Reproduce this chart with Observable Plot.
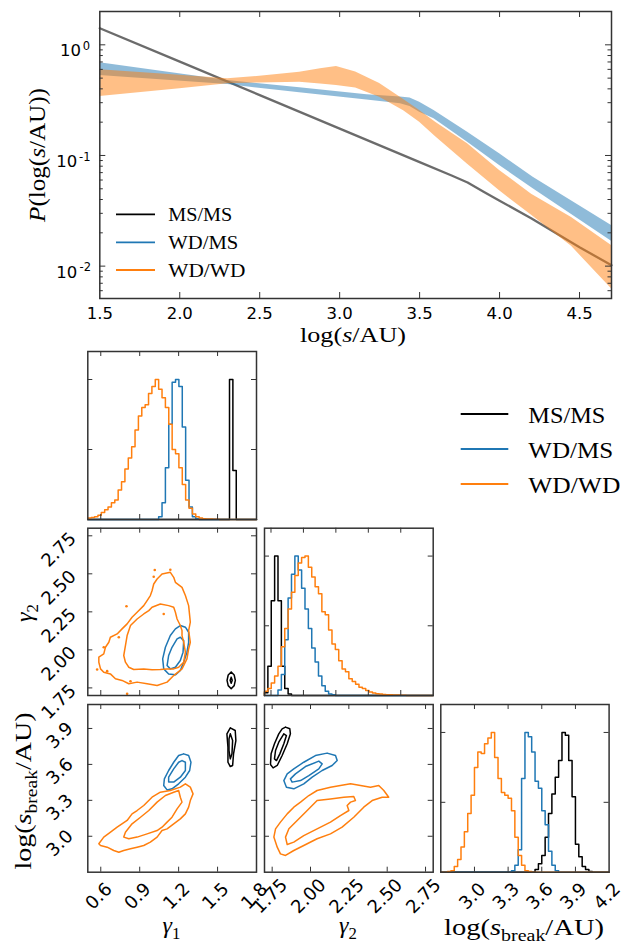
<!DOCTYPE html>
<html><head><meta charset="utf-8">
<script src="https://cdn.jsdelivr.net/npm/d3@7"></script>
<script src="https://cdn.jsdelivr.net/npm/@observablehq/plot@0.6"></script>
<style>
html,body{margin:0;padding:0;background:#fff;}
#chart{position:relative;width:624px;height:947px;overflow:hidden;background:#fff;}
#chart svg{position:absolute;left:0;top:0;}
</style></head><body><div id="chart"></div>
<script>
// ---------------- top panel data ----------------
const msmsX = [1.5, 2.0, 2.5, 3.0, 3.5, 3.7, 3.8, 3.9, 4.0, 4.2, 4.5, 4.7];
const msmsP = [1.41, 0.705, 0.351, 0.175, 0.087, 0.066, 0.057, 0.047, 0.039, 0.027, 0.0148, 0.0102];
const wdmsX  = [1.5, 2.3, 2.75, 3.17, 3.38, 3.44, 3.50, 3.59, 3.80, 4.00, 4.21, 4.70];
const wdmsHi = [0.687, 0.476, 0.409, 0.353, 0.337, 0.330, 0.303, 0.255, 0.162, 0.1035, 0.0637, 0.0233];
const wdmsLo = [0.528, 0.437, 0.368, 0.318, 0.293, 0.277, 0.246, 0.215, 0.132, 0.0813, 0.050, 0.0168];
const wdwdX  = [1.5, 2.0, 2.3, 2.5, 2.75, 2.88, 2.98, 3.1, 3.25, 3.4, 3.5, 3.6, 3.8, 4.0, 4.2, 4.45, 4.7];
const wdwdHi = [0.594, 0.531, 0.493, 0.519, 0.566, 0.607, 0.637, 0.569, 0.447, 0.321, 0.255, 0.1995, 0.1276, 0.0733, 0.0447, 0.0275, 0.01538];
const wdwdLo = [0.341, 0.400, 0.445, 0.452, 0.459, 0.4416, 0.4285, 0.407, 0.336, 0.253, 0.1995, 0.148, 0.0832, 0.0479, 0.0288, 0.0151, 0.00625];
const topXTicks = [2.0, 2.5, 3.0, 3.5, 4.0, 4.5];
const topXLabels = [1.5, 2.0, 2.5, 3.0, 3.5, 4.0, 4.5];
const topYMajor = [1, 0.1, 0.01];
const topYExp = ["0", "-1", "-2"];
const topYMinor = [0.006,0.007,0.008,0.009,0.02,0.03,0.04,0.05,0.06,0.07,0.08,0.09,0.2,0.3,0.4,0.5,0.6,0.7,0.8,0.9];
const seriesNames = ["MS/MS", "WD/MS", "WD/WD"];

// ---------------- corner: histograms (normalised, 50 bins) ----------------
const g1Range = [0.5, 1.8], g2HistRange = [1.70, 3.0], sbHistRange = [2.70, 4.20];
const nBins = 50;
const g1BlackStart = 42, g1Black = [1.0, 0.35];
const g1BlueStart = 21, g1Blue = [0.02,0.12,0.37,0.68,0.98,1.0,0.95,0.66,0.28,0.09,0.02,0.005];
const g1OrangeStart = 0, g1Orange = [0.01,0.015,0.02,0.03,0.05,0.07,0.09,0.12,0.14,0.21,0.27,0.36,0.44,0.52,0.64,0.74,0.80,0.82,0.90,0.95,1.0,0.93,0.87,0.80,0.68,0.50,0.47,0.37,0.25,0.14,0.08,0.04,0.02,0.01,0.006,0.004,0.003,0.002,0.001];
const g2BlackStart = 0, g2Black = [0.02,0.21,0.68,1.0,0.68,0.21,0.05,0.01];
const g2BlueStart = 4, g2Blue = [0.04,0.15,0.40,0.70,0.87,1.0,0.90,0.77,0.62,0.48,0.34,0.24,0.14,0.07,0.03,0.01,0.005];
const g2OrangeStart = 0, g2Orange = [0.03,0.05,0.09,0.14,0.21,0.35,0.48,0.62,0.74,0.86,0.95,0.99,1.0,0.92,0.85,0.78,0.73,0.60,0.58,0.47,0.37,0.33,0.25,0.19,0.17,0.12,0.10,0.08,0.06,0.05,0.035,0.025,0.018,0.012,0.01,0.008,0.006,0.005,0.004,0.003,0.002,0.001];
const sbBlackStart = 28, sbBlack = [0.02,0.06,0.12,0.25,0.42,0.56,0.68,0.80,1.0,0.98,0.80,0.54,0.20,0.11,0.04,0.02,0.005];
const sbBlueStart = 21, sbBlue = [0.01,0.05,0.16,0.67,1.0,0.97,0.86,0.65,0.60,0.44,0.34,0.15,0.05,0.01];
const sbOrangeStart = 2, sbOrange = [0.005,0.01,0.04,0.09,0.18,0.29,0.42,0.55,0.75,0.86,0.85,0.92,0.96,1.0,0.82,0.67,0.57,0.55,0.53,0.44,0.25,0.12,0.05,0.01,0.005];

// ---------------- corner: contours ([x, y]) ----------------
// gamma1 vs gamma2
const r2c1BlackOut = [[1.605,1.855],[1.628,1.835],[1.637,1.80],[1.628,1.765],[1.605,1.745],[1.582,1.765],[1.573,1.80],[1.582,1.835],[1.605,1.855]];
const r2c1BlackIn = [[1.605,1.82],[1.613,1.80],[1.605,1.78],[1.597,1.80],[1.605,1.82]];
const r2c1BlueOut = [[1.213,2.160],[1.252,2.149],[1.277,2.116],[1.277,2.050],[1.264,1.985],[1.239,1.919],[1.213,1.864],[1.175,1.836],[1.123,1.842],[1.085,1.875],[1.077,1.941],[1.098,2.017],[1.136,2.094],[1.175,2.138],[1.213,2.160]];
const r2c1BlueIn = [[1.213,2.083],[1.239,2.061],[1.234,1.985],[1.213,1.930],[1.175,1.886],[1.136,1.875],[1.111,1.897],[1.123,1.963],[1.149,2.017],[1.188,2.072],[1.213,2.083]];
const r2c1OrangeOut = [[1.072,2.499],[1.136,2.510],[1.162,2.477],[1.175,2.444],[1.226,2.411],[1.252,2.357],[1.277,2.291],[1.290,2.182],[1.277,2.127],[1.290,2.050],[1.277,2.006],[1.264,1.941],[1.226,1.875],[1.162,1.831],[1.111,1.788],[1.034,1.766],[0.957,1.777],[0.880,1.788],[0.816,1.777],[0.764,1.799],[0.713,1.810],[0.674,1.842],[0.623,1.853],[0.598,1.875],[0.585,1.919],[0.585,1.952],[0.623,1.974],[0.636,2.017],[0.662,2.050],[0.674,2.083],[0.726,2.105],[0.764,2.138],[0.803,2.171],[0.841,2.214],[0.880,2.247],[0.931,2.291],[0.957,2.324],[0.982,2.357],[0.995,2.389],[1.008,2.433],[1.034,2.466],[1.072,2.499]];
const r2c1OrangeIn = [[0.995,2.280],[1.059,2.302],[1.123,2.291],[1.162,2.280],[1.175,2.247],[1.188,2.203],[1.213,2.160],[1.226,2.127],[1.226,2.094],[1.239,2.050],[1.252,1.985],[1.239,1.919],[1.200,1.886],[1.162,1.875],[1.111,1.875],[1.059,1.871],[0.995,1.869],[0.931,1.875],[0.854,1.871],[0.816,1.886],[0.790,1.919],[0.777,1.963],[0.790,2.028],[0.803,2.094],[0.829,2.160],[0.880,2.203],[0.931,2.236],[0.970,2.258],[0.995,2.280]];
const r2c1OrangeSpecks = [[1.016,2.525],[1.136,2.527],[1.008,2.481],[0.798,2.287],[1.085,2.236],[0.739,2.083],[0.623,2.017],[0.572,1.871],[0.649,1.860],[0.829,1.794],[0.803,1.711]];
// gamma1 vs log s_break
const r3c1BlackOut = [[1.598,3.905],[1.636,3.883],[1.641,3.799],[1.623,3.688],[1.616,3.591],[1.598,3.582],[1.580,3.618],[1.580,3.744],[1.572,3.855],[1.598,3.905]];
const r3c1BlackIn = [[1.598,3.855],[1.616,3.799],[1.611,3.688],[1.598,3.646],[1.588,3.716],[1.588,3.813],[1.598,3.855]];
const r3c1BlueOut = [[1.239,3.688],[1.277,3.674],[1.295,3.618],[1.285,3.549],[1.252,3.493],[1.200,3.438],[1.149,3.396],[1.111,3.387],[1.085,3.424],[1.090,3.479],[1.123,3.549],[1.162,3.618],[1.200,3.674],[1.239,3.688]];
const r3c1BlueIn = [[1.226,3.632],[1.252,3.618],[1.252,3.549],[1.213,3.493],[1.162,3.452],[1.123,3.452],[1.123,3.493],[1.162,3.563],[1.200,3.618],[1.226,3.632]];
const r3c1OrangeOut = [[0.585,2.937],[0.623,2.993],[0.675,3.034],[0.726,3.076],[0.803,3.132],[0.841,3.187],[0.880,3.215],[0.931,3.257],[0.995,3.326],[1.059,3.368],[1.136,3.382],[1.213,3.410],[1.252,3.438],[1.290,3.410],[1.311,3.354],[1.290,3.298],[1.277,3.243],[1.252,3.187],[1.213,3.145],[1.162,3.104],[1.111,3.062],[1.072,3.048],[1.034,2.993],[0.982,2.951],[0.931,2.923],[0.880,2.909],[0.829,2.895],[0.777,2.881],[0.739,2.867],[0.700,2.881],[0.649,2.909],[0.598,2.923],[0.585,2.937]];
const r3c1OrangeIn = [[0.777,2.993],[0.790,3.034],[0.841,3.104],[0.906,3.159],[0.970,3.215],[1.034,3.285],[1.098,3.340],[1.162,3.368],[1.200,3.382],[1.213,3.326],[1.226,3.285],[1.188,3.229],[1.149,3.159],[1.111,3.118],[1.072,3.076],[1.034,3.048],[0.957,3.020],[0.880,2.993],[0.816,2.979],[0.777,2.993]];
// gamma2 vs log s_break
const r3c2BlackOut = [[1.837,3.911],[1.865,3.897],[1.869,3.855],[1.848,3.772],[1.815,3.674],[1.783,3.591],[1.756,3.571],[1.739,3.599],[1.743,3.688],[1.765,3.772],[1.793,3.855],[1.815,3.897],[1.837,3.911]];
const r3c2BlackIn = [[1.826,3.855],[1.843,3.841],[1.826,3.772],[1.800,3.688],[1.778,3.632],[1.765,3.646],[1.772,3.716],[1.793,3.785],[1.826,3.855]];
const r3c2BlueOut = [[2.108,3.694],[2.163,3.674],[2.174,3.632],[2.141,3.591],[2.076,3.549],[2.011,3.493],[1.956,3.438],[1.891,3.396],[1.843,3.410],[1.826,3.465],[1.848,3.521],[1.891,3.563],[1.956,3.618],[2.032,3.674],[2.108,3.694]];
const r3c2BlueIn = [[2.054,3.627],[2.076,3.604],[2.054,3.563],[1.989,3.507],[1.935,3.465],[1.880,3.452],[1.869,3.479],[1.902,3.521],[1.967,3.582],[2.054,3.627]];
const r3c2OrangeOut = [[2.043,3.382],[2.130,3.410],[2.195,3.424],[2.261,3.438],[2.326,3.424],[2.391,3.410],[2.445,3.424],[2.478,3.382],[2.510,3.326],[2.467,3.326],[2.402,3.298],[2.347,3.243],[2.282,3.159],[2.206,3.076],[2.130,3.020],[2.043,2.979],[1.956,2.923],[1.891,2.881],[1.837,2.840],[1.804,2.853],[1.783,2.909],[1.761,2.993],[1.772,3.062],[1.804,3.118],[1.848,3.187],[1.891,3.243],[1.935,3.285],[1.989,3.340],[2.043,3.382]];
const r3c2OrangeIn = [[2.043,3.298],[2.130,3.312],[2.217,3.326],[2.282,3.332],[2.293,3.298],[2.261,3.285],[2.239,3.257],[2.250,3.215],[2.195,3.173],[2.130,3.118],[2.043,3.062],[1.956,3.006],[1.891,2.951],[1.848,2.931],[1.837,2.993],[1.859,3.062],[1.913,3.132],[1.967,3.201],[2.043,3.298]];

// tick values
const g1Ticks = [0.6, 0.9, 1.2, 1.5];
const g1Labels = [0.6, 0.9, 1.2, 1.5, 1.8];
const g2Ticks = [1.75, 2.0, 2.25, 2.5, 2.75];
const sbTicks = [3.0, 3.3, 3.6, 3.9];
const sbLabels = [3.0, 3.3, 3.6, 3.9, 4.2];
const histYTicks = [0.5, 1.0];

// ---------------- drawing ----------------
const W = 624, H = 947;
const SANS = "DejaVu Sans", SERIF = "Liberation Serif";
const FRAME = "#333333";
const COL = {black: "#000000", blue: "#1f77b4", orange: "#ff7f0e"};
const chart = document.getElementById("chart");
const svgStyle = {background: "transparent", overflow: "visible"};

function plotAt(box, xd, yd, marks, ytype) {
  return Plot.plot({
    width: W, height: H,
    marginLeft: box[0], marginRight: W - box[1], marginTop: box[2], marginBottom: H - box[3],
    x: {domain: xd, axis: null},
    y: {domain: yd, axis: null, type: ytype || "linear"},
    style: svgStyle,
    marks
  });
}
function inTicks(box, xs, ys, len) {
  const w = box[1] - box[0], h = box[3] - box[2];
  const o = {stroke: FRAME, strokeWidth: 1};
  return [
    Plot.tickX(xs, {x: d => d, insetTop: h - len, ...o}),
    Plot.tickX(xs, {x: d => d, insetBottom: h - len, ...o}),
    Plot.tickY(ys, {y: d => d, insetRight: w - len, ...o}),
    Plot.tickY(ys, {y: d => d, insetLeft: w - len, ...o})
  ];
}
function histLine(range, start, vals, color) {
  const w = (range[1] - range[0]) / nBins;
  const full = new Array(nBins).fill(0);
  vals.forEach((v, i) => { full[start + i] = v; });
  const pts = [[range[0], 0]];
  full.forEach((v, i) => pts.push([range[0] + i * w, v]));
  pts.push([range[1], full[nBins - 1]]);
  pts.push([range[1], 0]);
  return Plot.line(pts, {x: d => d[0], y: d => d[1], curve: "step-after", stroke: color, strokeWidth: 1.5});
}
function contour(pts, color) {
  return Plot.line(pts, {x: d => d[0], y: d => d[1], stroke: color, strokeWidth: 1.5, strokeLinejoin: "round"});
}
function botLabels(vals, dec) {
  return Plot.text(vals, {x: d => d, frameAnchor: "bottom", text: d => d.toFixed(dec), rotate: -45,
    dx: -2, dy: 24, fontSize: 18, fontFamily: SANS, textAnchor: "middle", lineAnchor: "middle"});
}
function leftLabels(vals, dec, dx, dy) {
  return Plot.text(vals, {y: d => d, frameAnchor: "left", text: d => d.toFixed(dec), rotate: -45,
    dx, dy, fontSize: 18, fontFamily: SANS, textAnchor: "middle", lineAnchor: "middle"});
}
const frame = () => Plot.frame({stroke: FRAME, strokeWidth: 1.5});

// ---- top panel ----
const TP = [99.3, 611, 11, 298];
const msms = msmsX.map((x, i) => ({x, p: msmsP[i]}));
const wdms = wdmsX.map((x, i) => ({x, lo: wdmsLo[i], hi: wdmsHi[i]}));
const wdwd = wdwdX.map((x, i) => ({x, lo: wdwdLo[i], hi: wdwdHi[i]}));
const tpW = TP[1] - TP[0], tpH = TP[3] - TP[2];
const tk = {stroke: FRAME, strokeWidth: 1};
const baseDx = [-18.8, -22.6, -22.6], expDx = [-9.8, -9.3, -8.8];
const yLabelMarks = [];
topYMajor.forEach((t, i) => {
  yLabelMarks.push(Plot.text([t], {y: d => d, frameAnchor: "left", text: () => "10", textAnchor: "end",
    dx: baseDx[i], dy: 6.4, fontSize: 16.5, fontFamily: SANS, lineAnchor: "middle"}));
  yLabelMarks.push(Plot.text([t], {y: d => d, frameAnchor: "left", text: () => topYExp[i], textAnchor: "end",
    dx: expDx[i], dy: 1.5, fontSize: 11.5, fontFamily: SANS, lineAnchor: "middle"}));
});
chart.appendChild(plotAt(TP, [1.5, 4.7], [0.0051, 2.0], [
  Plot.line(msms, {x: "x", y: "p", stroke: "#000", strokeOpacity: 0.58, strokeWidth: 2.3}),
  Plot.areaY(wdms, {x: "x", y1: "lo", y2: "hi", fill: COL.blue, fillOpacity: 0.5}),
  Plot.areaY(wdwd, {x: "x", y1: "lo", y2: "hi", fill: COL.orange, fillOpacity: 0.5}),
  Plot.tickX(topXTicks, {x: d => d, insetTop: tpH - 6, ...tk}),
  Plot.tickX(topXTicks, {x: d => d, insetBottom: tpH - 6, ...tk}),
  Plot.tickY(topYMajor, {y: d => d, insetRight: tpW - 6, ...tk}),
  Plot.tickY(topYMajor, {y: d => d, insetLeft: tpW - 6, ...tk}),
  Plot.tickY(topYMinor, {y: d => d, insetRight: tpW - 3.5, ...tk}),
  Plot.tickY(topYMinor, {y: d => d, insetLeft: tpW - 3.5, ...tk}),
  Plot.text(topXLabels, {x: d => d, frameAnchor: "bottom", dy: 15, text: d => d.toFixed(1),
    fontFamily: SANS, fontSize: 16.5, lineAnchor: "middle"}),
  ...yLabelMarks,
  frame()
], "log"));

// ---- corner panels ----
const colX = [[87.3, 256], [264, 432.7], [440.3, 608.6]];
const rowY = [[351, 519], [527.7, 695], [704, 871.7]];
const box = (r, c) => [colX[c][0], colX[c][1], rowY[r][0], rowY[r][1]];
const g2Range = [1.70, 2.80], sbRange = [2.70, 4.10];

// r1c1 gamma1 histogram
chart.appendChild(plotAt(box(0, 0), g1Range, [0, 1.2], [
  histLine(g1Range, g1BlackStart, g1Black, COL.black),
  histLine(g1Range, g1BlueStart, g1Blue, COL.blue),
  histLine(g1Range, g1OrangeStart, g1Orange, COL.orange),
  ...inTicks(box(0, 0), g1Ticks, histYTicks, 5),
  frame()
]));
// r2c1 gamma1 vs gamma2
chart.appendChild(plotAt(box(1, 0), g1Range, g2Range, [
  contour(r2c1BlackOut, COL.black), contour(r2c1BlackIn, COL.black),
  contour(r2c1BlueOut, COL.blue), contour(r2c1BlueIn, COL.blue),
  contour(r2c1OrangeOut, COL.orange), contour(r2c1OrangeIn, COL.orange),
  Plot.dot(r2c1OrangeSpecks, {x: d => d[0], y: d => d[1], r: 1.3, fill: COL.orange}),
  ...inTicks(box(1, 0), g1Ticks, g2Ticks, 5),
  leftLabels(g2Ticks, 2, -29, 14),
  frame()
]));
// r2c2 gamma2 histogram
chart.appendChild(plotAt(box(1, 1), g2HistRange, [0, 1.2], [
  histLine(g2HistRange, g2BlackStart, g2Black, COL.black),
  histLine(g2HistRange, g2BlueStart, g2Blue, COL.blue),
  histLine(g2HistRange, g2OrangeStart, g2Orange, COL.orange),
  ...inTicks(box(1, 1), g2Ticks, histYTicks, 5),
  frame()
]));
// r3c1 gamma1 vs s_break
chart.appendChild(plotAt(box(2, 0), g1Range, sbRange, [
  contour(r3c1BlackOut, COL.black), contour(r3c1BlackIn, COL.black),
  contour(r3c1BlueOut, COL.blue), contour(r3c1BlueIn, COL.blue),
  contour(r3c1OrangeOut, COL.orange), contour(r3c1OrangeIn, COL.orange),
  ...inTicks(box(2, 0), g1Ticks, sbTicks, 5),
  leftLabels(sbTicks, 1, -28, 7),
  botLabels(g1Labels, 1),
  frame()
]));
// r3c2 gamma2 vs s_break
chart.appendChild(plotAt(box(2, 1), g2Range, sbRange, [
  contour(r3c2BlackOut, COL.black), contour(r3c2BlackIn, COL.black),
  contour(r3c2BlueOut, COL.blue), contour(r3c2BlueIn, COL.blue),
  contour(r3c2OrangeOut, COL.orange), contour(r3c2OrangeIn, COL.orange),
  ...inTicks(box(2, 1), g2Ticks, sbTicks, 5),
  botLabels(g2Ticks, 2),
  frame()
]));
// r3c3 s_break histogram
chart.appendChild(plotAt(box(2, 2), sbHistRange, [0, 1.2], [
  histLine(sbHistRange, sbBlackStart, sbBlack, COL.black),
  histLine(sbHistRange, sbBlueStart, sbBlue, COL.blue),
  histLine(sbHistRange, sbOrangeStart, sbOrange, COL.orange),
  ...inTicks(box(2, 2), sbTicks, histYTicks, 5),
  botLabels(sbLabels, 1),
  frame()
]));

// ---- overlay: axis titles and legends ----
const ov = d3.create("svg").attr("width", W).attr("height", H).attr("viewBox", `0 0 ${W} ${H}`);
function rich(x, y, rot, size, parts, len, anchor) {
  const t = ov.append("text")
    .attr("transform", `translate(${x},${y}) rotate(${rot})`)
    .attr("text-anchor", anchor || "middle")
    .attr("font-family", SERIF).attr("font-size", size).attr("fill", "#000");
  let shift = 0;
  for (const p of parts) {
    const s = t.append("tspan").text(p.t);
    if (p.i) s.attr("font-style", "italic");
    const target = p.sub ? size * 0.25 : 0;
    if (target !== shift) { s.attr("dy", target - shift); shift = target; }
    if (p.sub) s.attr("font-size", size * 0.7);
  }
  if (len) t.attr("textLength", len).attr("lengthAdjust", "spacingAndGlyphs");
}
rich(353, 342, 0, 22, [{t: "log("}, {t: "s", i: 1}, {t: "/AU)"}], 106);
rich(45, 155, -90, 23, [{t: "P", i: 1}, {t: "(log("}, {t: "s", i: 1}, {t: "/AU))"}], 134);
rich(171.5, 933, 0, 24, [{t: "\u03b3", i: 1}, {t: "1", sub: 1}]);
rich(348, 933, 0, 24, [{t: "\u03b3", i: 1}, {t: "2", sub: 1}]);
rich(524, 935, 0, 24, [{t: "log("}, {t: "s", i: 1}, {t: "break", sub: 1}, {t: "/AU)"}], 160);
rich(32, 613, -90, 24, [{t: "\u03b3", i: 1}, {t: "2", sub: 1}]);
rich(31, 791, -90, 24, [{t: "log("}, {t: "s", i: 1}, {t: "break", sub: 1}, {t: "/AU)"}], 157);

const legCols = [COL.black, COL.blue, COL.orange];
const topLegY = [214.3, 242.3, 270], topLegLen = [64, 70, 77];
const cornLegY = [414, 449, 484], cornLegLen = [77, 85, 92];
seriesNames.forEach((n, i) => {
  ov.append("line").attr("x1", 116).attr("x2", 155).attr("y1", topLegY[i]).attr("y2", topLegY[i])
    .attr("stroke", legCols[i]).attr("stroke-width", 1.8);
  rich(168.3, topLegY[i] + 6.8, 0, 18.5, [{t: n}], topLegLen[i], "start");
  ov.append("line").attr("x1", 460.7).attr("x2", 508.3).attr("y1", cornLegY[i]).attr("y2", cornLegY[i])
    .attr("stroke", legCols[i]).attr("stroke-width", 2);
  rich(528.3, cornLegY[i] + 9.3, 0, 23.5, [{t: n}], cornLegLen[i], "start");
});
chart.appendChild(ov.node());
</script></body></html>
